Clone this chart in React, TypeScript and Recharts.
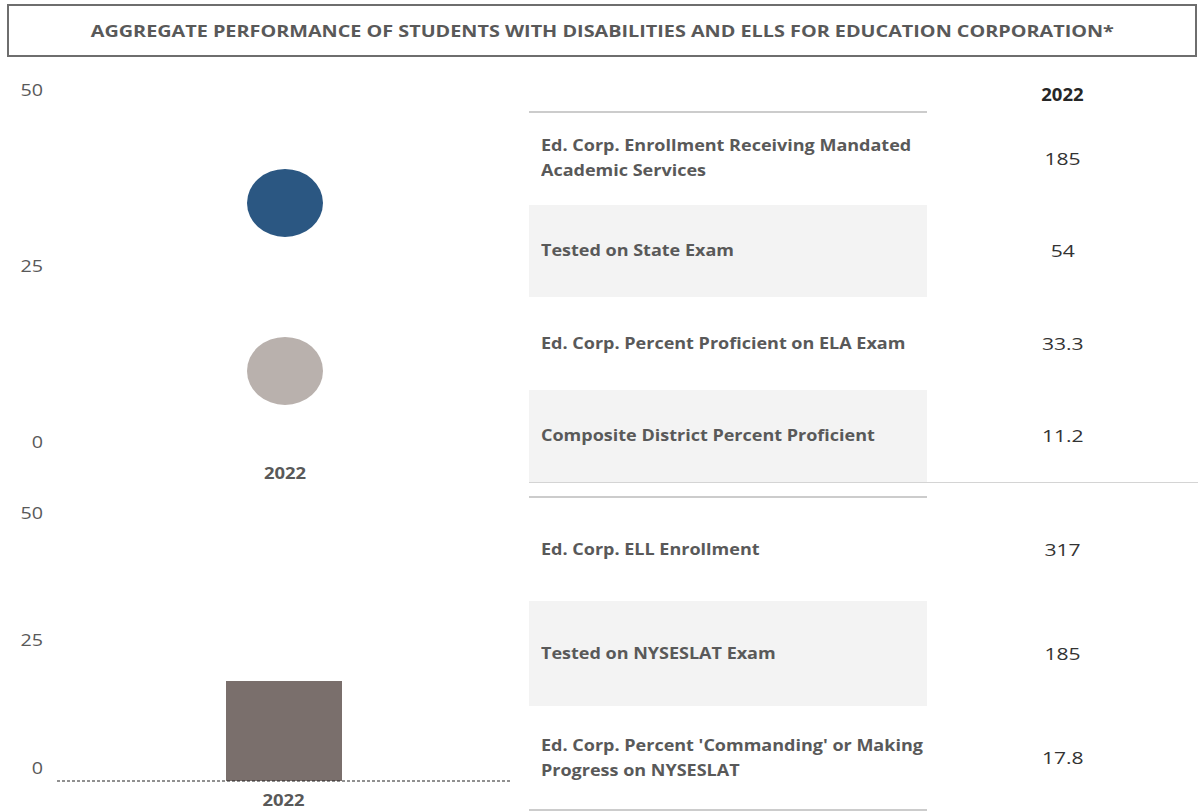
import { Bar, BarChart, Scatter, ScatterChart, XAxis, YAxis } from "recharts";

const title = "AGGREGATE PERFORMANCE OF STUDENTS WITH DISABILITIES AND ELLS FOR EDUCATION CORPORATION*";
const years = ["2022"];

// students with disabilities
const edCorpProficient = [33.3];
const districtProficient = [11.2];
// ELLs
const ellProgress = [17.8];

const swdLabels = [
  "Ed. Corp. Enrollment Receiving Mandated\nAcademic Services",
  "Tested on State Exam",
  "Ed. Corp. Percent Proficient on ELA Exam",
  "Composite District Percent Proficient",
];
const swdValues = ["185", "54", "33.3", "11.2"];

const ellLabels = [
  "Ed. Corp. ELL Enrollment",
  "Tested on NYSESLAT Exam",
  "Ed. Corp. Percent 'Commanding' or Making\nProgress on NYSESLAT",
];
const ellValues = ["317", "185", "17.8"];

const yTicks = [0, 25, 50];

const FONT = "'Open Sans', sans-serif";
const GREY_TEXT = "#595959";

const scatterData = years.map((y, i) => ({
  year: y,
  edCorp: edCorpProficient[i],
  district: districtProficient[i],
}));
const barData = years.map((y, i) => ({ year: y, ell: ellProgress[i] }));

// the source text is drawn a bit wider than Open Sans, so stretch it
const wide = (k: number, origin = "left center"): React.CSSProperties => ({
  display: "inline-block",
  transform: `scaleX(${k})`,
  transformOrigin: origin,
});

// Excel draws the end labels a bit inside the plot, nudge them in
const InsetTick = (props: any) => {
  const { y, payload, inset } = props;
  let dy = 0;
  if (payload.value === 50) dy = inset;
  if (payload.value === 0) dy = -inset;
  return (
    <text transform={`translate(43,${y + dy}) scale(1.16,1)`} dy="0.35em" textAnchor="end" fill={GREY_TEXT} fontSize={17} fontFamily={FONT}>
      {payload.value}
    </text>
  );
};

const YearTick = (props: any) => {
  const { x, y, payload, shift } = props;
  return (
    <text transform={`translate(${x},${y + shift}) scale(1.12,1)`} dy="0.71em" textAnchor="middle" fill={GREY_TEXT} fontSize={16.5} fontWeight={700} fontFamily={FONT}>
      {payload.value}
    </text>
  );
};

const Bubble = (color: string) => (props: any) => {
  const { cx, cy } = props;
  return <ellipse cx={cx} cy={cy} rx={38} ry={34} fill={color} />;
};

function TableSection(props: { top: number; rowH: number; labels: string[]; values: string[] }) {
  const { top, rowH, labels, values } = props;
  return (
    <>
      {labels.map((lab, i) => (
        <div key={lab}>
          <div
            style={{
              position: "absolute",
              left: 529,
              top: top + i * rowH,
              width: 398,
              height: rowH,
              background: i % 2 === 1 ? "#f3f3f3" : "transparent",
              display: "flex",
              alignItems: "center",
              paddingLeft: 12,
              boxSizing: "border-box",
              fontWeight: 700,
              fontSize: 16,
              lineHeight: "25px",
              color: GREY_TEXT,
            }}
          >
            <span style={{ ...wide(1.125), whiteSpace: "pre" }}>{lab}</span>
          </div>
          <div
            style={{
              position: "absolute",
              left: 927,
              top: top + i * rowH,
              width: 271,
              height: rowH,
              display: "flex",
              alignItems: "center",
              justifyContent: "center",
              fontSize: 17,
              color: "#333",
            }}
          >
            <span style={wide(1.24, "center")}>{values[i]}</span>
          </div>
        </div>
      ))}
    </>
  );
}

const hLine = (top: number, left: number, width: number, h: number, color: string) => (
  <div style={{ position: "absolute", top, left, width, height: h, background: color }} />
);

export default function App() {
  return (
    <div style={{ position: "absolute", left: 0, top: 0, width: 1198, height: 812, background: "#fff", fontFamily: FONT }}>
      <div
        style={{
          position: "absolute",
          left: 7,
          top: 4,
          width: 1190,
          height: 53,
          border: "2px solid #6e6e6e",
          boxSizing: "border-box",
          display: "flex",
          alignItems: "center",
          justifyContent: "center",
          fontWeight: 700,
          fontSize: 16.5,
          color: GREY_TEXT,
        }}
      >
        <span style={{ ...wide(1.2, "center"), whiteSpace: "nowrap" }}>{title}</span>
      </div>

      <div style={{ position: "absolute", left: 0, top: 60 }}>
        <ScatterChart width={520} height={440} margin={{ top: 16, right: 7, bottom: 0, left: 0 }}>
          <XAxis
            dataKey="year"
            type="category"
            allowDuplicatedCategory={false}
            height={44}
            axisLine={false}
            tickLine={false}
            tick={<YearTick shift={3} />}
          />
          <YAxis
            type="number"
            domain={[0, 50]}
            ticks={yTicks}
            width={57}
            axisLine={false}
            tickLine={false}
            tick={<InsetTick inset={14} />}
          />
          <Scatter data={scatterData} dataKey="edCorp" fill="#2b5782" shape={Bubble("#2b5782")} isAnimationActive={false} />
          <Scatter data={scatterData} dataKey="district" fill="#b9b1ad" shape={Bubble("#b9b1ad")} isAnimationActive={false} />
        </ScatterChart>
      </div>

      <div style={{ position: "absolute", left: 0, top: 490 }}>
        <BarChart width={520} height={321} data={barData} margin={{ top: 10, right: 10, bottom: 0, left: 0 }}>
          <XAxis
            dataKey="year"
            height={30}
            axisLine={{ stroke: "#222", strokeDasharray: "3 2" }}
            tickLine={false}
            tick={<YearTick shift={5} />}
          />
          <YAxis
            domain={[0, 50]}
            ticks={yTicks}
            width={57}
            axisLine={false}
            tickLine={false}
            tick={<InsetTick inset={13} />}
          />
          <Bar dataKey="ell" fill="#7a6f6c" barSize={116} isAnimationActive={false} />
        </BarChart>
      </div>

      <div
        style={{
          position: "absolute",
          left: 927,
          top: 83,
          width: 271,
          textAlign: "center",
          fontWeight: 700,
          fontSize: 17,
          color: "#262626",
        }}
      >
        <span style={wide(1.09, "center")}>{years[0]}</span>
      </div>
      {hLine(111, 529, 398, 2, "#cccccc")}
      <TableSection top={112} rowH={92.5} labels={swdLabels} values={swdValues} />
      {hLine(482, 529, 669, 1, "#d4d4d4")}
      {hLine(496, 529, 398, 2, "#cccccc")}
      <TableSection top={497} rowH={104.3} labels={ellLabels} values={ellValues} />
      {hLine(809, 529, 398, 2, "#cccccc")}
    </div>
  );
}
